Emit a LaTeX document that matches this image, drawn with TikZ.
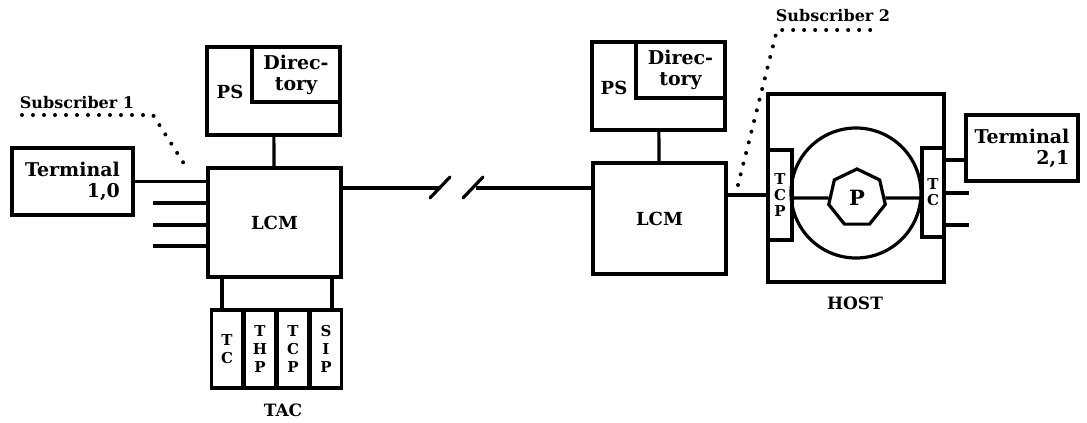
\documentclass[tikz,border=0pt]{standalone}
\usepackage{fontspec}
\setmainfont{DejaVu Serif}
\usetikzlibrary{positioning,shapes.geometric}

\tikzset{
  blk/.style={draw, line width=3.2pt, inner sep=0pt, font=\bfseries},
  wire/.style={line width=3.2pt},
  dots/.style={line width=4pt, line cap=round, dash pattern=on 0pt off 11pt},
  lbl/.style={inner sep=0pt, font=\bfseries\fontsize{18}{20}\selectfont},
  term/.style={blk, minimum width=#1, minimum height=67pt, align=right,
    font=\bfseries\fontsize{19}{21}\selectfont},
  dir/.style={blk, align=center, font=\bfseries\fontsize{19}{21}\selectfont},
  card/.style={blk, minimum width=31pt, minimum height=78pt, align=center,
    font=\bfseries\fontsize{15}{18}\selectfont},
}

\begin{document}
\begin{tikzpicture}[x=1pt, y=-1pt]
  \useasboundingbox (0,0) rectangle (1087,423);

  % subscriber 1 side
  \node[term=121pt] (term1) at (72.5,181.5) {Terminal\\1,0};
  \node[blk, minimum width=133pt, minimum height=109pt] (lcm1) at (274.5,222.5) {};
  \node[lbl] at (lcm1) {LCM};
  \node[blk, minimum width=133pt, minimum height=88pt] (ps1) at (273.5,91) {};
  \node[dir, minimum width=88pt, minimum height=55pt] (dir1) at (296,74.5) {Direc-\\tory};
  \node[lbl] (ps1lbl) at (230,92) {PS};
  \draw[wire] (ps1) -- (lcm1);
  \draw[wire] (term1) -- (term1 -| lcm1.west);
  \foreach \y in {203,225,246}
    \draw[wire] (lcm1.west |- 0,\y) -- ++(-53,0);

  % TAC cards
  \node[card] (tc1) at (227,349) {T\\C};
  \node[card] (thp) at (260,349) {T\\H\\P};
  \node[card] (tcp1) at (293,349) {T\\C\\P};
  \node[card] (sip) at (326,349) {S\\I\\P};
  \node[lbl, font=\bfseries\fontsize{17}{19}\selectfont] (tac) at (283,410) {TAC};
  \draw[wire] (lcm1.south -| 222,0) -- (tc1.north -| 222,0);
  \draw[wire] (lcm1.south -| 332,0) -- (sip.north -| 332,0);

  \node[lbl, font=\bfseries\fontsize{16}{18}\selectfont] (sub1) at (77,103) {Subscriber 1};
  \draw[dots] (22,115) -- (153,115) -- (188,170);

  % trunk with break
  \coordinate (brk1) at (440,188);
  \coordinate (brk2) at (476,188);
  \draw[wire] (lcm1.east |- brk1) -- (brk1);
  \draw[wire, line cap=round] (430,198) -- (450,177);
  \draw[wire, line cap=round] (463,198) -- (483,177);

  % subscriber 2 side
  \node[blk, minimum width=133pt, minimum height=111pt] (lcm2) at (659.5,218.5) {};
  \node[lbl] at (lcm2) {LCM};
  \node[blk, minimum width=133pt, minimum height=88pt] (ps2) at (658.5,86) {};
  \node[dir, minimum width=89pt, minimum height=56pt] (dir2) at (680.5,70) {Direc-\\tory};
  \node[lbl] (ps2lbl) at (614,88) {PS};
  \draw[wire] (ps2) -- (lcm2);
  \draw[wire] (brk2) -- (lcm2.west |- brk2);

  \node[lbl, font=\bfseries\fontsize{16}{18}\selectfont] (sub2) at (833,16) {Subscriber 2};
  \draw[dots] (738,185) -- (777,30) -- (875,30);

  % host
  \node[blk, minimum width=176pt, minimum height=188pt] (host) at (856,188) {};
  \node[lbl, font=\bfseries\fontsize{17}{19}\selectfont] (hostlbl) at (855,303) {HOST};
  \draw[wire] (856,193) circle (65);
  \node[card, minimum width=24pt, minimum height=90pt,
    font=\bfseries\fontsize{15}{16}\selectfont] (tcp2) at (780,195) {T\\C\\P};
  \node[card, minimum width=22pt, minimum height=89pt,
    font=\bfseries\fontsize{15}{16}\selectfont] (tc2) at (933,192.5) {T\\C};
  \node[blk, regular polygon, regular polygon sides=7, minimum size=58pt,
    font=\bfseries\fontsize{21}{23}\selectfont] (P) at (857,198) {P};
  \draw[wire] (tcp2.east |- P) -- (P);
  \draw[wire] (P) -- (tc2.west |- P);
  \draw[wire] (lcm2.east |- tcp2) -- (tcp2.west);

  \node[term=112pt, minimum height=66pt] (term2) at (1022,148) {Terminal\\2,1};
  \draw[wire] (tc2.east |- 0,160) -- (term2.west |- 0,160);
  \foreach \y in {193,225}
    \draw[wire] (tc2.east |- 0,\y) -- ++(23,0);
\end{tikzpicture}
\end{document}
